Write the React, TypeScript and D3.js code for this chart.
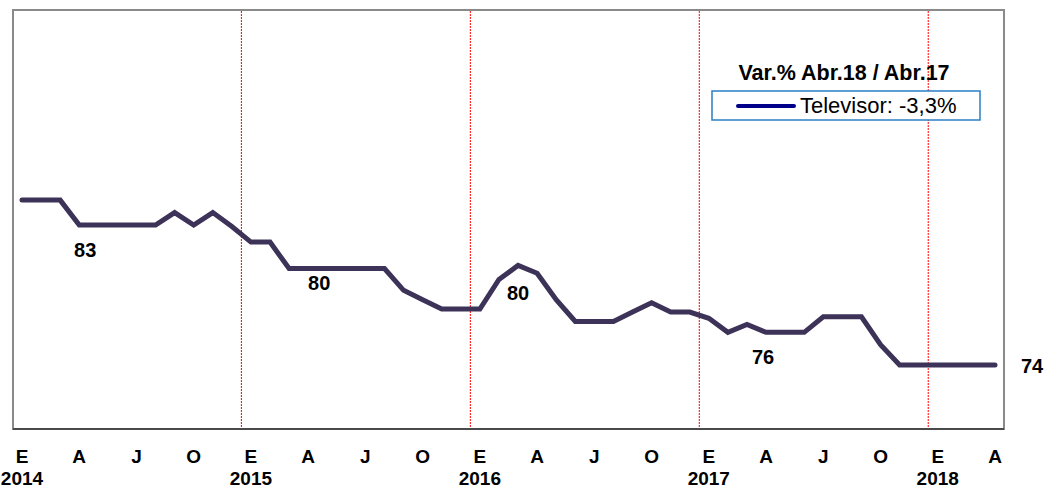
import React, {JSX} from "react";
import * as d3 from "d3";

// Televisor index, monthly Jan 2014 .. Apr 2018
const values = [
    84.6, 84.6, 84.6, 83.0, 83.0, 83.0, 83.0, 83.0, 83.8, 83.0, 83.8, 82.9,
    81.9, 81.9, 80.2, 80.2, 80.2, 80.2, 80.2, 80.2, 78.8, 78.2, 77.6, 77.6,
    77.6, 79.5, 80.4, 79.9, 78.2, 76.8, 76.8, 76.8, 77.4, 78.0, 77.4, 77.4,
    77.0, 76.1, 76.6, 76.1, 76.1, 76.1, 77.1, 77.1, 77.1, 75.3, 74.0, 74.0,
    74.0, 74.0, 74.0, 74.0,
];
const monthTicks = ["E", "A", "J", "O", "E", "A", "J", "O", "E", "A", "J", "O", "E", "A", "J", "O", "E", "A"];
const yearTicks = ["2014", "2015", "2016", "2017", "2018"];
const dataLabels = [
    {index: 3, text: "83"},
    {index: 15, text: "80"},
    {index: 26, text: "80"},
    {index: 39, text: "76"},
    {index: 51, text: "74"},
];
const legendTitle = "Var.% Abr.18 / Abr.17";
const legendText = "Televisor: -3,3%";

export default function App(): JSX.Element {
    const width = 1047
    const height = 488
    const frameLeft = 13
    const frameTop = 10
    const frameRight = 1004
    const frameBottom = 429
    const font = "'Liberation Sans', Arial, sans-serif"

    const x = d3.scaleLinear([0, values.length - 1], [22, 995]);
    const y = d3.scaleLinear([83, 74], [225, 365]);
    const line = d3.line<number>((d, i) => x(i), (d) => y(d));

    // label offsets (px) relative to their point
    const labelOffsets = [[6, 32], [11, 21], [0, 35], [-3, 32], [37, 8]];

    return (
        <svg width={width} height={height} style={{position: "absolute", left: 0, top: 0}} fontFamily={font}>
            <rect x={0} y={0} width={width} height={height} fill="white"/>
            <rect x={frameLeft} y={frameTop} width={frameRight - frameLeft} height={frameBottom - frameTop}
                  fill="white" stroke="#8a8a8a" strokeWidth={2}/>
            <line x1={frameLeft} x2={frameRight} y1={frameBottom} y2={frameBottom} stroke="#4a4a4a" strokeWidth={2}/>

            {yearTicks.slice(1).map((yr, k) => {
                const xv = x((k + 1) * 12 - 0.5)
                return <line key={yr} x1={xv} x2={xv} y1={frameTop + 1} y2={frameBottom - 1}
                             stroke="#ff0000" strokeWidth={1} strokeDasharray="2,1"/>
            })}

            <path d={line(values) as string} fill="none" stroke="#3d3257" strokeWidth={5}
                  strokeLinecap="round" strokeLinejoin="miter"/>

            {dataLabels.map((l, k) => (
                <text key={k} x={x(l.index) + labelOffsets[k][0]} y={y(values[l.index]) + labelOffsets[k][1]}
                      textAnchor="middle" fontWeight="bold" fontSize={20} fill="#000">{l.text}</text>
            ))}

            {monthTicks.map((m, i) => (
                <text key={"m" + i} x={x(i * 3)} y={463} textAnchor="middle" fontWeight="bold"
                      fontSize={19} fill="#000">{m}</text>
            ))}
            {yearTicks.map((yr, k) => (
                <text key={yr} x={x(k * 12)} y={485} textAnchor="middle" fontWeight="bold"
                      fontSize={19} fill="#000">{yr}</text>
            ))}

            <text x={844} y={80} textAnchor="middle" fontWeight="bold" fontSize={21.5} fill="#000">{legendTitle}</text>
            <rect x={712} y={91} width={268} height={29} fill="white" stroke="#2a7fc4" strokeWidth={1.5}/>
            <line x1={738} x2={794} y1={106} y2={106} stroke="#00008b" strokeWidth={4} strokeLinecap="round"/>
            <text x={800} y={113} fontSize={22} fill="#000">{legendText}</text>
        </svg>
    )
}
